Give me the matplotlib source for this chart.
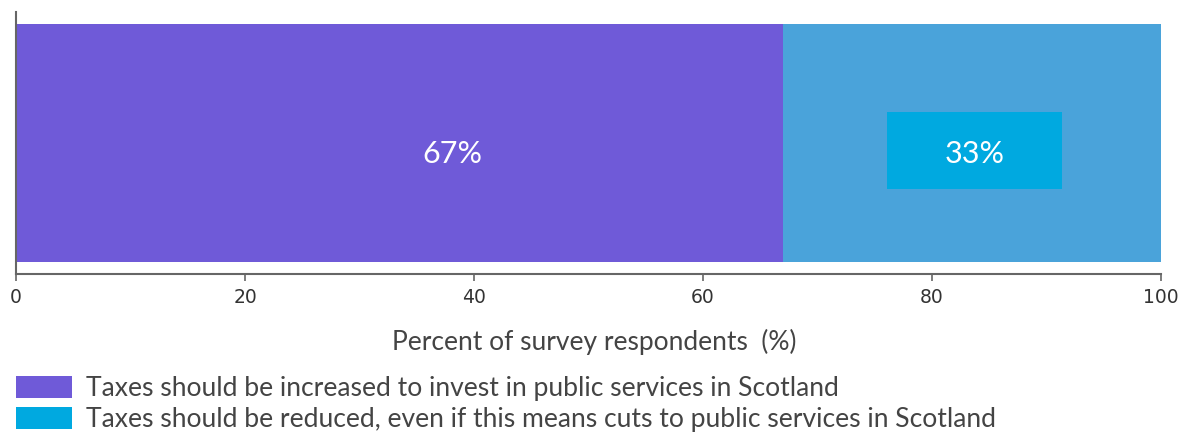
import matplotlib
matplotlib.use("Agg")
import matplotlib.pyplot as plt
from matplotlib.patches import Patch, Rectangle

# Survey shares (percent of respondents)
categories = [
    "Taxes should be increased to invest in public services in Scotland",
    "Taxes should be reduced, even if this means cuts to public services in Scotland",
]
values = [67, 33]
bar_colors = ["#6F5AD8", "#4AA3DA"]
legend_colors = ["#6F5AD8", "#00A9E0"]
label_box_color = "#00A9E0"
xticks = [0, 20, 40, 60, 80, 100]

W, H = 1179, 434
fig = plt.figure(figsize=(W / 100, H / 100), dpi=100)
ax = fig.add_axes([16 / W, 160 / H, (1161 - 16) / W, (422 - 160) / H])

# horizontal offsets of the value labels from each segment's centre
label_shift = [4.6, 0.2]
box_y = -0.032
text_y = -0.045
left = 0
for i, (v, c) in enumerate(zip(values, bar_colors)):
    ax.barh(0, v, left=left, height=1.0, color=c, edgecolor="none")
    cx = left + v / 2 + label_shift[i]
    if i == 1:
        box_w, box_h = 15.3, 0.323
        ax.add_patch(Rectangle((cx - box_w / 2, box_y - box_h / 2),
                               box_w, box_h, facecolor=label_box_color,
                               edgecolor="none", zorder=3))
    ax.text(cx, text_y, f"{v}%", ha="center", va="center",
            color="white", fontsize=22, family="Lato", zorder=4)
    left += v

ax.set_xlim(0, 100)
ax.set_ylim(-0.55, 0.55)
ax.set_yticks([])
ax.set_xticks(xticks)
ax.set_xticklabels([str(t) for t in xticks], fontsize=13.5,
                   family="DejaVu Sans", color="#333333")
ax.tick_params(axis="x", length=5, width=1.2, color="#666666", pad=5)
for s in ("top", "right"):
    ax.spines[s].set_visible(False)
for s in ("left", "bottom"):
    ax.spines[s].set_color("#666666")
    ax.spines[s].set_linewidth(1.5)

fig.text((393 + 795) / 2 / W, 1 - 342 / H, "Percent of survey respondents  (%)",
         ha="center", va="center", fontsize=19, family="Lato", color="#444444")

fs = 19.1
px = fs * 100 / 72
handles = [Patch(facecolor=c, edgecolor="none") for c in legend_colors]
leg = fig.legend(handles, categories, loc="upper left",
                 bbox_to_anchor=(16 / W, 1 - 376 / H), frameon=False,
                 prop={"family": "Lato", "size": fs}, handlelength=56 / px,
                 handleheight=23 / px, handletextpad=14 / px, labelspacing=0.24,
                 borderpad=0, borderaxespad=0)
for t in leg.get_texts():
    t.set_color("#444444")

fig.savefig("out.png", dpi=100)
